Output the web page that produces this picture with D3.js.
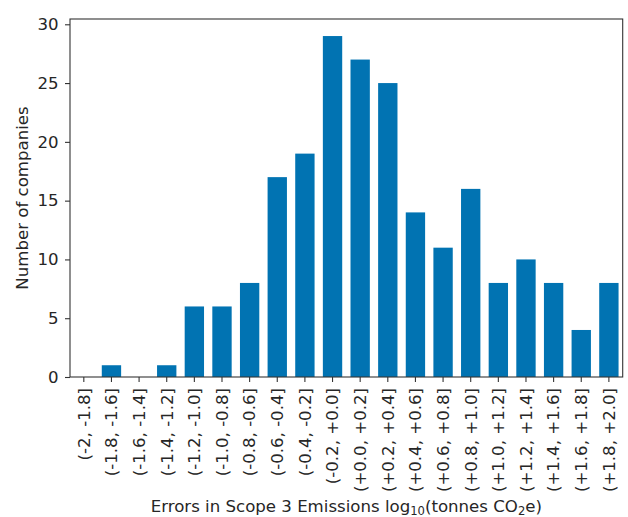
<!DOCTYPE html>
<html lang="en">
<head>
<meta charset="utf-8">
<title>Scope 3 errors histogram</title>
<script src="https://cdn.jsdelivr.net/npm/d3@7"></script>
<style>
  body { margin: 0; background: #fff; }
  svg text { font-family: "DejaVu Sans", sans-serif; fill: #262626; }
</style>
</head>
<body>
<div id="chart"></div>
<script>
// bins of log10 error and company counts
var bins = ["(-2, -1.8]", "(-1.8, -1.6]", "(-1.6, -1.4]", "(-1.4, -1.2]", "(-1.2, -1.0]",
            "(-1.0, -0.8]", "(-0.8, -0.6]", "(-0.6, -0.4]", "(-0.4, -0.2]", "(-0.2, +0.0]",
            "(+0.0, +0.2]", "(+0.2, +0.4]", "(+0.4, +0.6]", "(+0.6, +0.8]", "(+0.8, +1.0]",
            "(+1.0, +1.2]", "(+1.2, +1.4]", "(+1.4, +1.6]", "(+1.6, +1.8]", "(+1.8, +2.0]"];
var counts = [0, 1, 0, 1, 6, 6, 8, 17, 19, 29, 27, 25, 14, 11, 16, 8, 10, 8, 4, 8];
var yTicks = [0, 5, 10, 15, 20, 25, 30];

var w = 628, h = 517;
var pLeft = 70, pRight = 622.7, pTop = 19, pBottom = 377;
var fs = 16.6;

var svg = d3.select("#chart").append("svg")
  .attr("width", w).attr("height", h);

var xScale = d3.scaleBand()
  .domain(bins)
  .range([pLeft, pRight])
  .paddingInner(0.3)
  .paddingOuter(0.15);

var yScale = d3.scaleLinear()
  .domain([0, d3.max(counts) * 1.05])
  .range([pBottom, pTop]);

svg.selectAll("rect.bar")
  .data(counts)
  .enter()
  .append("rect")
  .attr("class", "bar")
  .attr("x", function(d, i) { return xScale(bins[i]); })
  .attr("y", function(d) { return yScale(d); })
  .attr("width", xScale.bandwidth())
  .attr("height", function(d) { return pBottom - yScale(d); })
  .attr("fill", "#0173b2");

// frame
svg.append("rect")
  .attr("x", pLeft).attr("y", pTop)
  .attr("width", pRight - pLeft).attr("height", pBottom - pTop)
  .attr("fill", "none").attr("stroke", "#333").attr("stroke-width", 1.1);

var yAxis = svg.append("g")
  .attr("transform", "translate(" + pLeft + ",0)")
  .call(d3.axisLeft(yScale).tickValues(yTicks).tickSize(5).tickPadding(6.5));
yAxis.select(".domain").remove();
yAxis.selectAll("line").attr("stroke", "#333").attr("stroke-width", 1.1);
yAxis.selectAll("text").style("font-size", fs + "px").attr("fill", "#262626")
  .style("font-family", "DejaVu Sans");

var xAxis = svg.append("g")
  .attr("transform", "translate(0," + pBottom + ")")
  .call(d3.axisBottom(xScale).tickSize(5).tickPadding(6));
xAxis.select(".domain").remove();
xAxis.selectAll("line").attr("stroke", "#333").attr("stroke-width", 1.1);
xAxis.selectAll("text")
  .style("font-size", fs + "px").attr("fill", "#262626")
  .style("font-family", "DejaVu Sans")
  .attr("transform", "rotate(-90)")
  .attr("x", -11).attr("y", 0).attr("dy", "0.35em")
  .attr("text-anchor", "end");

svg.append("text")
  .attr("transform", "translate(28," + ((pTop + pBottom) / 2) + ") rotate(-90)")
  .attr("text-anchor", "middle")
  .style("font-size", fs + "px")
  .text("Number of companies");

var xl = svg.append("text")
  .attr("x", (pLeft + pRight) / 2).attr("y", 511.5)
  .attr("text-anchor", "middle")
  .style("font-size", fs + "px");
xl.append("tspan").text("Errors in Scope 3 Emissions log");
xl.append("tspan").attr("dy", 3.3).style("font-size", "11.6px").text("10");
xl.append("tspan").attr("dy", -3.3).text("(tonnes CO");
xl.append("tspan").attr("dy", 3.3).style("font-size", "11.6px").text("2");
xl.append("tspan").attr("dy", -3.3).text("e)");
</script>
</body>
</html>
